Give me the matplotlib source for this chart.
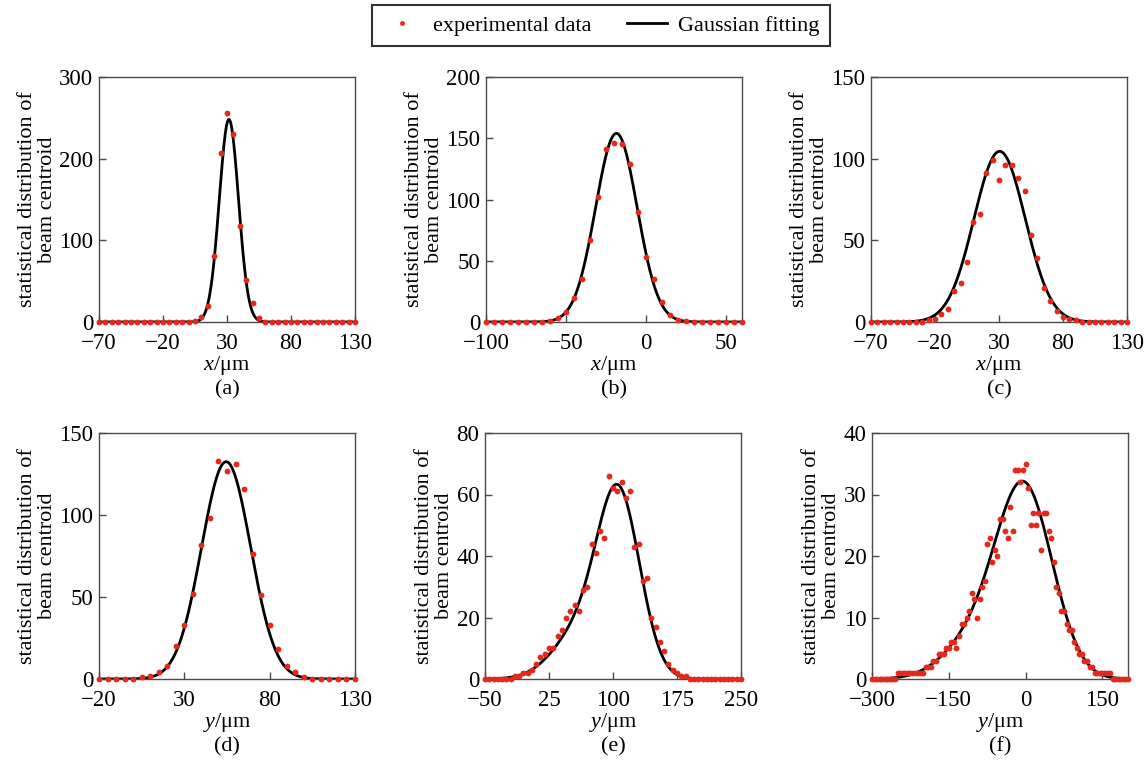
import numpy as np
import matplotlib
matplotlib.use("Agg")
import matplotlib.pyplot as plt
from matplotlib.lines import Line2D

plt.rcParams['font.family'] = ['Liberation Serif', 'DejaVu Serif']
plt.rcParams['mathtext.fontset'] = 'custom'
plt.rcParams['mathtext.rm'] = 'Liberation Serif'
plt.rcParams['mathtext.it'] = 'Liberation Serif:italic'
plt.rcParams['axes.unicode_minus'] = True

# ---------------- data ----------------
xa = list(range(-70, 131, 5))
ya = [0]*15 + [1, 6, 19, 81, 207, 256, 230, 118, 51, 23, 5] + [0]*15

xb = list(range(-100, 61, 5))
yb = [0]*7 + [0, 1, 3, 8, 20, 35, 67, 102, 141, 146, 145, 129, 90, 53, 35, 16, 6, 2, 1] + [0]*7

xc = list(range(-70, 131, 5))
yc = [0]*9 + [1, 2, 5, 8, 19, 24, 37, 61, 66, 91, 99, 87, 96, 96, 88, 80, 53, 39, 21, 13, 7, 3, 2, 1] + [0]*8

xd = list(range(-20, 131, 5))
yd = [0]*5 + [1, 2, 4, 8, 20, 33, 52, 82, 98, 133, 127, 131, 116, 76, 51, 33, 18, 8, 4, 1] + [0]*6

xe = list(range(-50, 251, 5))
ye = [0]*7 + [1, 1, 2, 2, 3, 5, 7, 8, 10, 10, 14, 16, 20, 22, 24, 22, 29, 30, 44, 41,
              48, 46, 66, 62, 61, 64, 59, 61, 43, 44, 32, 33, 20, 17, 12, 9, 5, 3, 2, 1, 1] + [0]*13

xf = list(range(-300, 201, 5))
yf = ([0]*10 + [1]*10 +
      [1, 2, 2, 2, 3, 3, 4, 4, 4, 5, 5, 6, 6, 5, 7, 9, 9, 10, 11, 14,
       13, 10, 13, 15, 16, 22, 23, 19, 21, 20, 26, 26, 24, 23, 28, 24, 34, 34, 32, 34,
       35, 31, 25, 27, 25, 27, 21, 27, 27, 24, 23, 19, 15, 14, 11, 11, 9, 8, 8, 6,
       5, 4, 4, 3, 3, 2, 2, 1, 1, 1, 1, 1, 1, 1] + [0]*7)

# Gaussian fitting parameters (amplitude, centre, sigma) per component
fit_a = [(248, 31.5, 7.5)]
fit_b = [(154, -18.5, 13.0)]
fit_c = [(104.5, 30.5, 20.0)]
fit_d = [(132.5, 54.5, 14.4)]
fit_e = [(57.4, 107.0, 25.0), (15.0, 62.0, 32.0)]
fit_f = [(30.5, -2.0, 55.0), (6.0, -100.0, 60.0)]

xlims = [(-70, 130), (-100, 60), (-70, 130), (-20, 130), (-50, 250), (-300, 200)]
xticks = [[-70, -20, 30, 80, 130], [-100, -50, 0, 50], [-70, -20, 30, 80, 130],
          [-20, 30, 80, 130], [-50, 25, 100, 175, 250], [-300, -150, 0, 150]]
yticks = [[0, 100, 200, 300], [0, 50, 100, 150, 200], [0, 50, 100, 150],
          [0, 50, 100, 150], [0, 20, 40, 60, 80], [0, 10, 20, 30, 40]]
xlabels = [r'$x$/μm']*3 + [r'$y$/μm']*3
panel_labels = ['(a)', '(b)', '(c)', '(d)', '(e)', '(f)']
ylabel_text = 'statistical distribution of\nbeam centroid'

xs = [xa, xb, xc, xd, xe, xf]
ys = [ya, yb, yc, yd, ye, yf]
fits = [fit_a, fit_b, fit_c, fit_d, fit_e, fit_f]

# ---------------- figure ----------------
W, H = 1148, 770
fig = plt.figure(figsize=(W/100, H/100), dpi=100)

lefts = [99, 486, 871, 99, 485, 872]
tops = [77, 77, 77, 433, 433, 433]
bottoms = [322, 322, 322, 679, 679, 679]
aw = 256

red = '#e4281b'
spine_c = '#4a4a4a'

for i in range(6):
    l, t, b = lefts[i], tops[i], bottoms[i]
    ax = fig.add_axes([l/W, 1 - b/H, aw/W, (b - t)/H])
    x0, x1 = xlims[i]
    xx = np.linspace(x0, x1, 800)
    yy = np.zeros_like(xx)
    for A, mu, s in fits[i]:
        yy += A*np.exp(-(xx - mu)**2/(2*s**2))
    ax.plot(xx, yy, color='black', lw=2.0, zorder=2)
    ax.plot(xs[i], ys[i], 'o', color=red, ms=4.2, mew=0, zorder=3, clip_on=False)
    ax.set_xlim(x0, x1)
    ax.set_ylim(yticks[i][0], yticks[i][-1])
    ax.set_xticks(xticks[i])
    ax.set_yticks(yticks[i])
    ax.tick_params(axis='both', direction='in', length=5, width=1, color=spine_c,
                   labelsize=16.5, top=False, right=False)
    ax.tick_params(axis='x', pad=8)
    ax.tick_params(axis='y', pad=4)
    for sp in ax.spines.values():
        sp.set_color(spine_c)
        sp.set_linewidth(1.0)
    ax.set_xlabel(xlabels[i], fontsize=16, labelpad=0)
    ax.set_ylabel(ylabel_text, fontsize=16, labelpad=2, linespacing=1.05)
    ax.text(0.5, -0.275, panel_labels[i], transform=ax.transAxes,
            ha='center', va='center', fontsize=16)

handles = [Line2D([], [], marker='o', ls='none', color=red, ms=3.5, mew=0),
           Line2D([], [], color='black', lw=2.0)]
leg = fig.legend(handles, ['experimental data', 'Gaussian fitting'],
                 loc='upper center', bbox_to_anchor=(0.5235, 1 - 5/H), ncol=2,
                 borderaxespad=0,
                 frameon=True, fancybox=False, edgecolor='black', fontsize=16,
                 handlelength=1.8, columnspacing=1.6, handletextpad=0.5,
                 borderpad=0.45)
leg.get_frame().set_linewidth(1.5)

fig.savefig('out.png', dpi=100)
